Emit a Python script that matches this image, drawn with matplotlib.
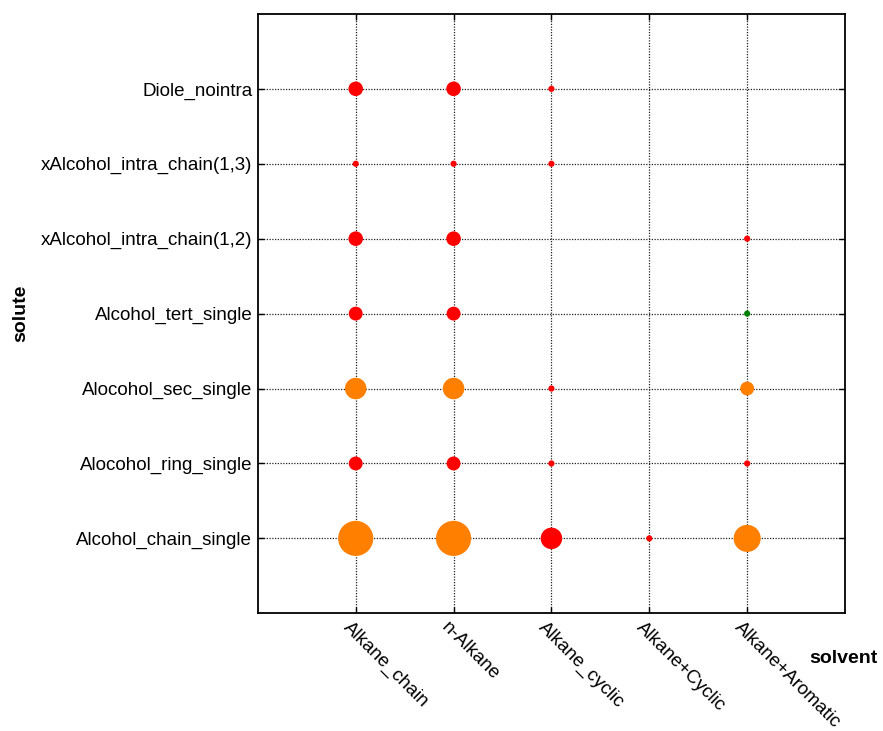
import matplotlib
matplotlib.use("Agg")
import matplotlib.pyplot as plt
import matplotlib.transforms as mtransforms
import numpy as np

plt.rcParams['font.family'] = ['Liberation Sans', 'DejaVu Sans']

solvents = ["Alkane_chain", "n-Alkane", "Alkane_cyclic", "Alkane+Cyclic", "Alkane+Aromatic"]
solutes = ["Alcohol_chain_single", "Alocohol_ring_single", "Alocohol_sec_single",
           "Alcohol_tert_single", "xAlcohol_intra_chain(1,2)",
           "xAlcohol_intra_chain(1,3)", "Diole_nointra"]

# one record per (solute, solvent) pair that has data
pt_solute = ["Alcohol_chain_single"] * 5 + \
            ["Alocohol_ring_single"] * 4 + \
            ["Alocohol_sec_single"] * 4 + \
            ["Alcohol_tert_single"] * 3 + \
            ["xAlcohol_intra_chain(1,2)"] * 3 + \
            ["xAlcohol_intra_chain(1,3)"] * 3 + \
            ["Diole_nointra"] * 3
pt_solvent = ["Alkane_chain", "n-Alkane", "Alkane_cyclic", "Alkane+Cyclic", "Alkane+Aromatic",
              "Alkane_chain", "n-Alkane", "Alkane_cyclic", "Alkane+Aromatic",
              "Alkane_chain", "n-Alkane", "Alkane_cyclic", "Alkane+Aromatic",
              "Alkane_chain", "n-Alkane", "Alkane+Aromatic",
              "Alkane_chain", "n-Alkane", "Alkane+Aromatic",
              "Alkane_chain", "n-Alkane", "Alkane_cyclic",
              "Alkane_chain", "n-Alkane", "Alkane_cyclic"]
# number of data sets per pair (marker area)
pt_count = [32, 32, 12, 1, 19,
            5, 5, 1, 1,
            12, 12, 1, 5,
            5, 5, 1,
            5.5, 5.5, 1,
            1, 1, 1,
            5.5, 5.5, 1]
# quality class per pair (marker colour)
pt_class = ["mid", "mid", "bad", "bad", "mid",
            "bad", "bad", "bad", "bad",
            "mid", "mid", "bad", "mid",
            "bad", "bad", "good",
            "bad", "bad", "bad",
            "bad", "bad", "bad",
            "bad", "bad", "bad"]

class_colors = {"bad": "#FF0000", "mid": "#FF8000", "good": "#008000"}

fig = plt.figure(figsize=(8.83, 7.31), dpi=100)
ax = fig.add_axes([0.292, 0.161, 0.665, 0.820])

xs = [solvents.index(s) for s in pt_solvent]
ys = [solutes.index(s) for s in pt_solute]
sizes = np.array(pt_count) * 20.0
cols = [class_colors[c] for c in pt_class]

ax.set_axisbelow(True)
ax.grid(True, color="#222222", linestyle=(0, (1, 1.2)), linewidth=0.9)
ax.scatter(xs, ys, s=sizes, c=cols, edgecolors="none", zorder=3)

ax.set_xlim(-1, len(solvents))
ax.set_ylim(-1, len(solutes))
ax.set_xticks(range(len(solvents)))
ax.set_yticks(range(len(solutes)))
ax.set_xticklabels(solvents, rotation=-45, ha="left", va="top",
                   rotation_mode="anchor", fontsize=13.5)
ax.set_yticklabels(solutes, fontsize=13.5)
ax.tick_params(direction="in", length=4, top=True, right=True, width=1, pad=4)
for sp in ax.spines.values():
    sp.set_linewidth(1.3)

# nudge the slanted solvent names slightly to the left
shift = mtransforms.ScaledTranslation(-4 / 100, 0, fig.dpi_scale_trans)
for lbl in ax.get_xticklabels():
    lbl.set_transform(lbl.get_transform() + shift)

ax.set_ylabel("solute", fontsize=14, fontweight="bold")
ax.set_xlabel("solvent", fontsize=14, fontweight="bold")
ax.xaxis.set_label_coords(0.998, -0.062)
ax.yaxis.set_label_coords(-0.39, 0.5)

fig.savefig("out.png", dpi=100)
